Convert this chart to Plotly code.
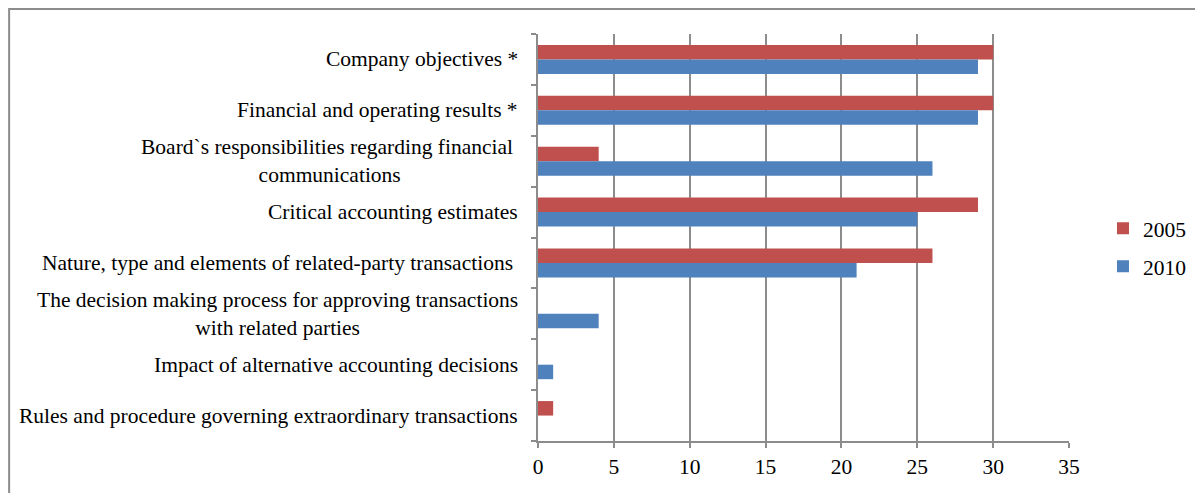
import plotly.graph_objects as go

categories = [
    "Company objectives *",
    "Financial and operating results *",
    "Board`s responsibilities regarding financial\u00a0<br>communications",
    "Critical accounting estimates",
    "Nature, type and elements of related-party transactions\u00a0",
    "The decision making process for approving transactions<br>with related parties",
    "Impact of alternative accounting decisions",
    "Rules and procedure governing extraordinary transactions",
]
values_2005 = [30, 30, 4, 29, 26, 0, 0, 1]
values_2010 = [29, 29, 26, 25, 21, 4, 1, 0]
x_ticks = [0, 5, 10, 15, 20, 25, 30, 35]

FONT = "Liberation Serif, Times New Roman, serif"
FS = 21.5
GRID = "#8c8c8c"
ids = list(range(len(categories)))

fig = go.Figure()
fig.add_trace(go.Bar(
    y=ids, x=values_2005, name="2005", orientation="h",
    marker=dict(color="#C0504D", line=dict(width=0)),
    legendgroup="a",
))
fig.add_trace(go.Bar(
    y=ids, x=values_2010, name="2010", orientation="h",
    marker=dict(color="#4F81BD", line=dict(width=0)),
    legendgroup="b",
))

annotations = []
for i, c in enumerate(categories):
    annotations.append(dict(
        x=0, xref="paper", y=i, yref="y", text=c, showarrow=False,
        xanchor="right", yanchor="middle", align="center", xshift=-18,
        font=dict(family=FONT, size=FS, color="black"),
    ))

fig.update_layout(
    width=1195, height=485,
    margin=dict(l=530, r=134, t=26, b=52),
    paper_bgcolor="white", plot_bgcolor="white",
    barmode="group", bargap=0.43, bargroupgap=0,
    font=dict(family=FONT, size=FS, color="black"),
    legend=dict(
        x=1.064, xanchor="left", y=0.476, yanchor="middle",
        font=dict(family=FONT, size=FS, color="black"),
        tracegroupgap=7, traceorder="grouped",
        bgcolor="rgba(0,0,0,0)",
    ),
    annotations=annotations,
    shapes=[dict(
        type="rect", xref="paper", yref="paper",
        x0=-0.996, x1=1.3, y0=-0.2, y1=1.0614,
        line=dict(color=GRID, width=2), fillcolor="rgba(0,0,0,0)", layer="below",
    )],
    showlegend=True,
)
fig.update_xaxes(
    range=[0, 35], tickvals=x_ticks, ticktext=[str(t) for t in x_ticks],
    showgrid=True, gridcolor=GRID, gridwidth=1.5,
    zeroline=False, showline=True, linecolor=GRID, linewidth=1.5,
    ticks="outside", ticklen=5, tickcolor=GRID, tickwidth=1.5,
    tickfont=dict(family=FONT, size=FS, color="black"),
)
fig.update_yaxes(
    range=[len(categories) - 0.5, -0.5],
    tickvals=[i - 0.5 for i in range(len(categories) + 1)],
    showticklabels=False, showgrid=False, zeroline=False,
    showline=True, linecolor=GRID, linewidth=1.5,
    ticks="outside", ticklen=5, tickcolor=GRID, tickwidth=1.5,
)

fig.write_html("out.html")
